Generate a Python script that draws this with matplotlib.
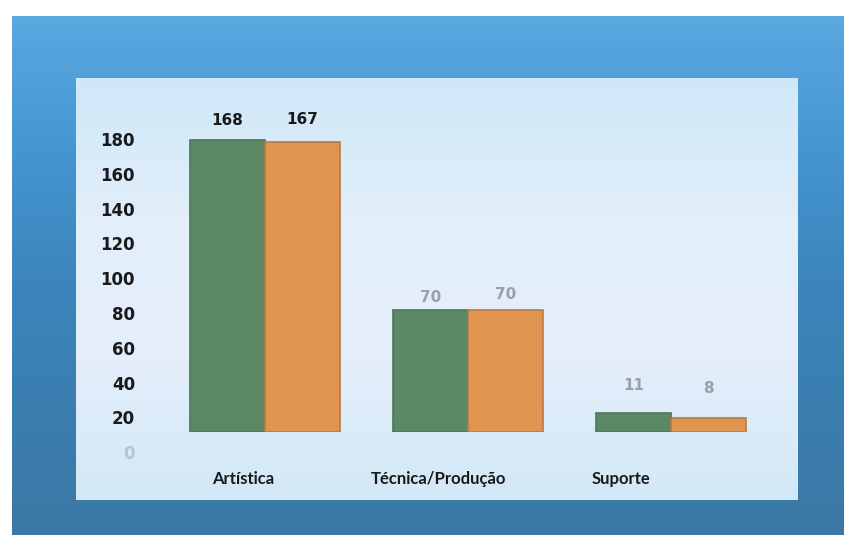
import matplotlib
matplotlib.use("Agg")
import matplotlib.pyplot as plt
import matplotlib.transforms as mtransforms
import numpy as np

categories = ["Artística", "Técnica/Produção", "Suporte"]
series_green = [168, 70, 11]
series_orange = [167, 70, 8]
yticks = [0, 20, 40, 60, 80, 100, 120, 140, 160, 180]

W, H = 845, 535
fig = plt.figure(figsize=(W / 100, H / 100), dpi=100)
fig.patch.set_facecolor("white")

# background decoration (frame) in pixel coordinates
bg = fig.add_axes([0, 0, 1, 1])
bg.set_xlim(0, W)
bg.set_ylim(H, 0)
bg.axis("off")
grad = np.linspace(0, 1, 100)[:, None]
frame_cmap = matplotlib.colors.LinearSegmentedColormap.from_list(
    "frame", ["#5aa8e0", "#4596d2", "#3c86bc", "#3a7eb0", "#3c78a6"])
bg.imshow(grad, extent=[12, W, H, 16], cmap=frame_cmap, aspect="auto", zorder=1)
panel_cmap = matplotlib.colors.LinearSegmentedColormap.from_list(
    "panel", ["#cfe8f8", "#e2eefa", "#e4eefa", "#d3e8f7"])
bg.imshow(grad, extent=[76, 798, 500, 78], cmap=panel_cmap, aspect="auto", zorder=2)

# chart axes: y=0 at pixel 432, 1.7375 px per unit
px_per_unit = 1.7375
y0_pix = 432
top_pix = 95
ymax = (y0_pix - top_pix) / px_per_unit
left_pix, right_pix = 160, 798
unit_px = 203
c0 = 265
xl = -(c0 - left_pix) / unit_px
xr = (right_pix - c0) / unit_px
ax = fig.add_axes([left_pix / W, (H - y0_pix) / H,
                   (right_pix - left_pix) / W, (y0_pix - top_pix) / H])
ax.set_facecolor("none")
ax.set_xlim(xl, xr)
ax.set_ylim(0, ymax)
for s in ax.spines.values():
    s.set_visible(False)

x = np.arange(len(categories))
bw = 0.37
ax.bar(x - bw / 2, series_green, bw, color="#5c8867", edgecolor="#4d7658", linewidth=1.2)
ax.bar(x + bw / 2, series_orange, bw, color="#df9550", edgecolor="#b97a44", linewidth=1.2)

lab_colors = ["#1a1a1a", "#9aa0a8", "#9aa0a8"]
lab_offsets = [9, 4, 14]
for i in range(len(categories)):
    ax.annotate(str(series_green[i]), (x[i] - bw / 2, series_green[i]),
                xytext=(0, lab_offsets[i]), textcoords="offset points", ha="center",
                va="bottom", fontsize=11, fontweight="bold", color=lab_colors[i])
    ax.annotate(str(series_orange[i]), (x[i] + bw / 2, series_orange[i]),
                xytext=(0, lab_offsets[i] + 2), textcoords="offset points", ha="center",
                va="bottom", fontsize=11, fontweight="bold", color=lab_colors[i])

ax.set_yticks(yticks)
ax.set_yticklabels([str(v) for v in yticks], fontsize=12, fontweight="bold",
                   color="#1a1a1a")
ax.get_yticklabels()[0].set_color("#b8c4d0")
ax.tick_params(axis="y", length=0, pad=18)
shift_down = mtransforms.ScaledTranslation(0, -20 / 100, fig.dpi_scale_trans)
for lbl in ax.get_yticklabels():
    lbl.set_transform(lbl.get_transform() + shift_down)

ax.set_xticks(x)
ax.set_xticklabels(categories, fontsize=12, fontweight="bold", family="Lato",
                   color="#1a1a1a")
ax.tick_params(axis="x", length=0, pad=28)
x_offsets = [-22, -30, -50]
for lbl, dx in zip(ax.get_xticklabels(), x_offsets):
    lbl.set_transform(lbl.get_transform() +
                      mtransforms.ScaledTranslation(dx / 100, 0, fig.dpi_scale_trans))

fig.savefig("out.png", dpi=100)
